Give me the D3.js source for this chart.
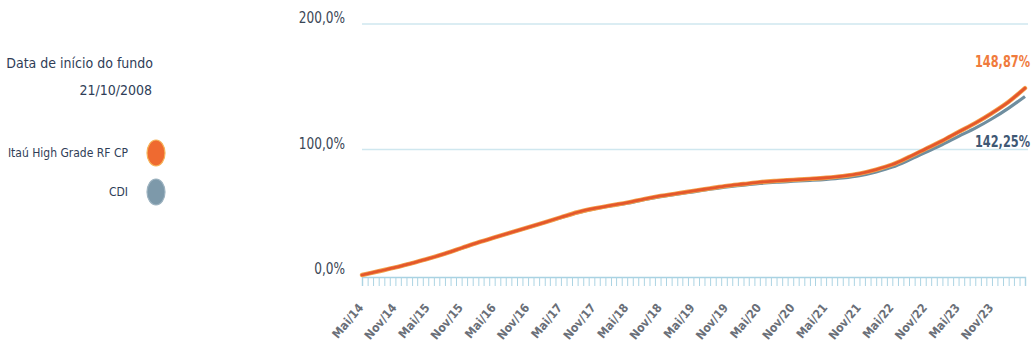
<!DOCTYPE html>
<html>
<head>
<meta charset="utf-8">
<script src="https://cdn.jsdelivr.net/npm/d3@7"></script>
<style>
  html, body { margin: 0; padding: 0; background: #ffffff; }
  svg { display: block; }
  text { font-family: "Liberation Sans Narrow", "DejaVu Sans Condensed", "Liberation Sans", sans-serif; }
</style>
</head>
<body>
<svg id="chart" width="1035" height="350"></svg>
<script>
// Quarterly observation months (Mai/14 .. Mai/24)
const months = [
  "2014-05","2014-08","2014-11","2015-02","2015-05","2015-08","2015-11","2016-02",
  "2016-05","2016-08","2016-11","2017-02","2017-05","2017-08","2017-11","2018-02",
  "2018-05","2018-08","2018-11","2019-02","2019-05","2019-08","2019-11","2020-02",
  "2020-05","2020-08","2020-11","2021-02","2021-05","2021-08","2021-11","2022-02",
  "2022-05","2022-08","2022-11","2023-02","2023-05","2023-08","2023-11","2024-02",
  "2024-05"
];

// Accumulated return (%) of the fund
const fundValues = [
  0, 3, 6, 9.5, 13, 17, 21.5, 26,
  30, 34, 38, 42, 46, 50, 53, 55.5,
  57.6, 60.5, 63, 65, 67, 69, 71, 72.5,
  74, 75, 75.8, 76.6, 77.5, 78.8, 80.8, 84,
  88, 94, 100.5, 107, 114, 121, 129, 138,
  148.87
];

// Accumulated CDI (%)
const cdiValues = [
  0, 3, 6, 9.5, 13, 17, 21.4, 25.9,
  29.9, 33.8, 37.8, 41.8, 45.7, 49.7, 52.7, 55.1,
  57.2, 60, 62.4, 64.4, 66.3, 68.3, 70.2, 71.6,
  73, 74, 74.7, 75.4, 76.2, 77.4, 79.2, 82.2,
  86, 91.6, 97.8, 104, 110.5, 117, 124.5, 133,
  142.25
];

const yTicks = [0, 100, 200];
const yTickLabels = ["0,0%", "100,0%", "200,0%"];
const monthNames = ["Jan","Fev","Mar","Abr","Mai","Jun","Jul","Ago","Set","Out","Nov","Dez"];
const seriesNames = ["Itaú High Grade RF CP", "CDI"];
const endLabels = ["148,87%", "142,25%"];
const startTitle = "Data de início do fundo";
const startDate = "21/10/2008";

const parse = d3.timeParse("%Y-%m");
const dates = months.map(parse);

const svg = d3.select("#chart");

const x = d3.scaleTime()
  .domain(d3.extent(dates))
  .range([362, 1025]);

const y = d3.scaleLinear()
  .domain([0, 200])
  .range([275, 24]);

// Horizontal gridlines
svg.append("g")
  .selectAll("line")
  .data(yTicks.filter(d => d > 0))
  .join("line")
  .attr("x1", 362)
  .attr("x2", 1028)
  .attr("y1", d => y(d))
  .attr("y2", d => y(d))
  .attr("stroke", "#cfe7ef")
  .attr("stroke-width", 1.6);

// Y tick labels (slightly tall, condensed look)
svg.append("g")
  .selectAll("text")
  .data(yTicks)
  .join("text")
  .attr("transform", d => `translate(345,${y(d) - 1}) scale(0.9,1.1)`)
  .attr("text-anchor", "end")
  .attr("font-size", 15)
  .attr("fill", "#3a4655")
  .text((d, i) => yTickLabels[i]);

// X axis with monthly ticks
const xAxis = d3.axisBottom(x)
  .ticks(d3.timeMonth.every(1))
  .tickSize(9)
  .tickFormat("");

const gx = svg.append("g")
  .attr("transform", "translate(0,277)")
  .call(xAxis);
gx.select(".domain").attr("stroke", "#a9d2e2").attr("stroke-width", 1.4);
gx.selectAll(".tick line").attr("stroke", "#acd4e3").attr("stroke-width", 1);

// Semiannual labels (Mai / Nov)
const labelDates = d3.timeMonth.range(x.domain()[0], d3.timeMonth.offset(x.domain()[1], 1))
  .filter(d => d.getMonth() === 4 || d.getMonth() === 10)
  .filter(d => d <= parse("2023-11"));

svg.append("g")
  .selectAll("text")
  .data(labelDates)
  .join("text")
  .attr("transform", d => `translate(${x(d) + 2},308) rotate(-50)`)
  .attr("text-anchor", "end")
  .attr("font-size", 12)
  .attr("font-weight", "bold")
  .attr("fill", "#6a6f78")
  .text(d => monthNames[d.getMonth()] + "/" + String(d.getFullYear()).slice(2));

// Lines
const line = values => d3.line()
  .x((d, i) => x(dates[i]))
  .y(d => y(d))
  .curve(d3.curveMonotoneX)(values);

svg.append("path")
  .attr("d", line(cdiValues))
  .attr("fill", "none")
  .attr("stroke", "#6f8e9f")
  .attr("stroke-width", 3.2);

svg.append("path")
  .attr("d", line(fundValues))
  .attr("fill", "none")
  .attr("stroke", "#f3a24c")
  .attr("stroke-width", 4.4)
  .attr("stroke-linecap", "round");

svg.append("path")
  .attr("d", line(fundValues))
  .attr("fill", "none")
  .attr("stroke", "#e4572c")
  .attr("stroke-width", 2.8)
  .attr("stroke-linecap", "round");

// End-value labels
svg.append("text")
  .attr("transform", "translate(1030,67) scale(0.9,1.1)")
  .attr("text-anchor", "end")
  .attr("font-size", 14)
  .attr("font-weight", "bold")
  .attr("fill", "#f07b3c")
  .text(endLabels[0]);

svg.append("text")
  .attr("transform", "translate(1030,147) scale(0.9,1.1)")
  .attr("text-anchor", "end")
  .attr("font-size", 14)
  .attr("font-weight", "bold")
  .attr("fill", "#3f5874")
  .text(endLabels[1]);

// Left panel: fund start date and legend
svg.append("text")
  .attr("x", 153).attr("y", 68)
  .attr("text-anchor", "end")
  .attr("font-size", 14)
  .attr("fill", "#2f3d57")
  .text(startTitle);

svg.append("text")
  .attr("x", 152).attr("y", 95)
  .attr("text-anchor", "end")
  .attr("font-size", 14)
  .attr("fill", "#2f3d57")
  .text(startDate);

const legendColors = ["#ef6a30", "#7d99aa"];
const legendY = [153, 192];

const legend = svg.append("g")
  .selectAll("g")
  .data(seriesNames)
  .join("g");

legend.append("text")
  .attr("x", 128)
  .attr("y", (d, i) => legendY[i] + 4)
  .attr("text-anchor", "end")
  .attr("font-size", 12)
  .attr("fill", "#2f3d57")
  .text(d => d);

legend.append("ellipse")
  .attr("cx", 156)
  .attr("cy", (d, i) => legendY[i])
  .attr("rx", 9)
  .attr("ry", 13)
  .attr("fill", (d, i) => legendColors[i])
  .attr("stroke", (d, i) => i === 0 ? "#f6b45a" : "#9db3c0")
  .attr("stroke-width", 1.2);
</script>
</body>
</html>
